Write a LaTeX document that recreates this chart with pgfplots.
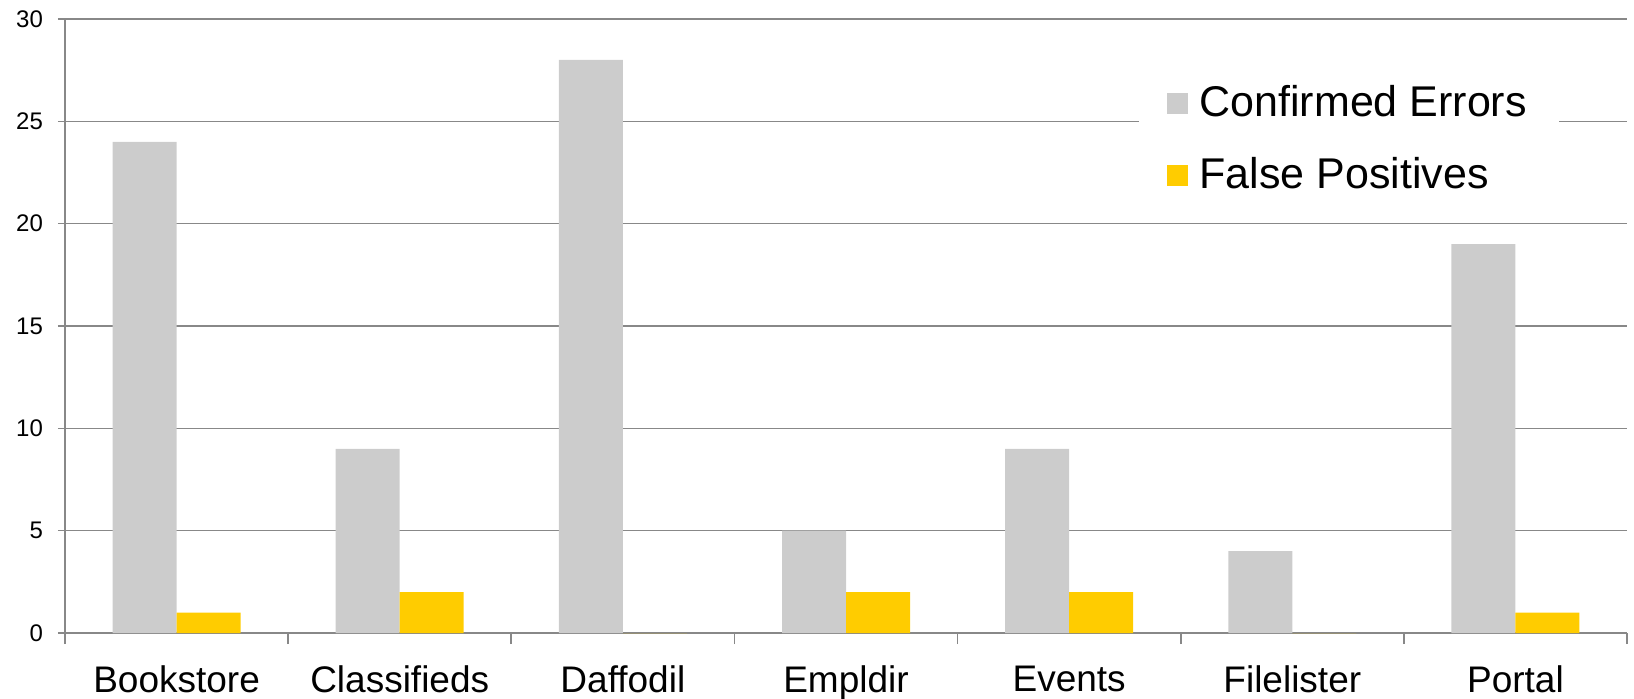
\documentclass[border=0pt]{standalone}
\usepackage{fontspec}
\setmainfont{Liberation Sans}
\usepackage{pgfplots}
\pgfplotsset{compat=1.18}
\definecolor{cgray}{HTML}{CCCCCC}
\definecolor{cyel}{HTML}{FFCC00}
\definecolor{lgray}{HTML}{888888}
\begin{document}
\begin{tikzpicture}
\begin{axis}[
  name=ax,
  scale only axis,
  width=781pt, height=307pt,
  ybar=0pt, bar width=32pt,
  xmin=-0.5, xmax=6.5,
  ymin=0, ymax=30,
  ytick={0,5,...,30},
  xtick={0,...,6},
  xticklabels={Bookstore,Classifieds,Daffodil,Empldir,Events,Filelister,Portal},
  minor xtick={-0.5,0.5,...,6.5},
  major x tick style={draw=none},
  minor x tick style={lgray, line width=0.8pt},
  minor tick length=5.5pt,
  y tick style={lgray, line width=0.8pt},
  major tick length=3.5pt,
  tick align=outside,
  axis x line*=bottom, axis y line*=left,
  axis line style={lgray, line width=1pt, -},
  ymajorgrids, grid style={lgray, line width=0.8pt},
  /pgf/number format/assume math mode=true,
  yticklabel style={font=\fontsize{12}{14}\selectfont, xshift=-4pt},
  xticklabel style={font=\fontsize{18.5}{22}\selectfont, yshift=-9.5pt},
  legend style={at={(rel axis cs:0.687,0.925)}, anchor=north west, draw=none, fill=white,
    font=\fontsize{21.5}{25}\selectfont, row sep=15pt, inner xsep=14pt, inner ysep=8pt},
  legend cell align=left,
  legend image code/.code={\fill[#1] (0pt,-5.5pt) rectangle (10.5pt,5pt); \path (14.5pt,0pt);},
]
\addplot[fill=cgray, draw=none] coordinates {(0,24) (1,9) (2,28) (3,5) (4,9) (5,4) (6,19)};
\addplot[fill=cyel, draw=none] coordinates {(0,1) (1,2) (2,0) (3,2) (4,2) (5,0) (6,1)};
\legend{Confirmed Errors, False Positives}
\end{axis}
\pgfresetboundingbox
\path (ax.south west) ++(-32.5pt,-32.5pt) rectangle ([shift={(3.5pt,9.5pt)}]ax.north east);
\end{tikzpicture}
\end{document}
